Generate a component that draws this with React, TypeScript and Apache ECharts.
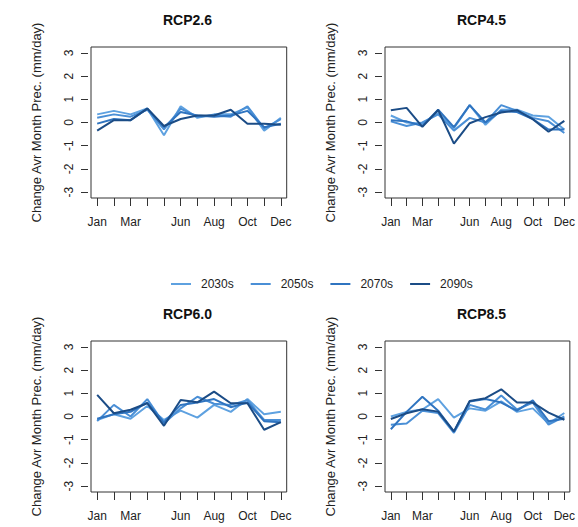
import React, { useEffect, useRef } from 'react';
import * as echarts from 'echarts';

const MONTHS = ['Jan', 'Feb', 'Mar', 'Apr', 'May', 'Jun', 'Jul', 'Aug', 'Sep', 'Oct', 'Nov', 'Dec'];
const LABELED_MONTHS = ['Jan', 'Mar', 'Jun', 'Aug', 'Oct', 'Dec'];
const Y_TICKS = [-3, -2, -1, 0, 1, 2, 3];
const PERIODS = ['2030s', '2050s', '2070s', '2090s'];
const PERIOD_COLORS = ['#5ea1e0', '#4a8fd6', '#2f74c0', '#1b4c86'];
const SCENARIOS = ['RCP2.6', 'RCP4.5', 'RCP6.0', 'RCP8.5'];
const Y_NAME = 'Change Avr Month Prec. (mm/day)';

const rcp26_2030s = [0.35, 0.5, 0.35, 0.6, -0.55, 0.7, 0.2, 0.35, 0.35, 0.65, -0.35, 0.2];
const rcp26_2050s = [0.2, 0.35, 0.25, 0.55, -0.3, 0.6, 0.25, 0.3, 0.25, 0.7, -0.25, 0.15];
const rcp26_2070s = [-0.05, 0.15, 0.1, 0.6, -0.2, 0.45, 0.3, 0.25, 0.3, 0.5, -0.2, -0.05];
const rcp26_2090s = [-0.35, 0.1, 0.1, 0.6, -0.15, 0.15, 0.3, 0.3, 0.55, -0.05, -0.05, -0.1];

const rcp45_2030s = [0.3, 0.0, -0.05, 0.4, -0.25, 0.75, -0.1, 0.55, 0.55, 0.3, 0.25, -0.3];
const rcp45_2050s = [0.05, -0.15, 0.0, 0.35, -0.35, 0.2, 0.0, 0.75, 0.5, 0.2, 0.05, -0.45];
const rcp45_2070s = [0.1, 0.05, -0.15, 0.55, -0.2, 0.75, 0.0, 0.5, 0.45, 0.15, -0.3, -0.3];
const rcp45_2090s = [0.53, 0.63, -0.19, 0.54, -0.91, -0.03, 0.23, 0.43, 0.53, 0.14, -0.4, 0.07];

const rcp60_2030s = [-0.15, 0.1, -0.1, 0.45, -0.15, 0.25, -0.05, 0.5, 0.2, 0.75, 0.1, 0.2];
const rcp60_2050s = [-0.2, 0.5, 0.0, 0.75, -0.3, 0.35, 0.85, 0.55, 0.5, 0.7, -0.15, -0.15];
const rcp60_2070s = [-0.1, 0.1, 0.2, 0.6, -0.25, 0.5, 0.6, 0.75, 0.4, 0.6, -0.2, -0.25];
const rcp60_2090s = [0.93, 0.14, 0.29, 0.57, -0.4, 0.71, 0.61, 1.07, 0.57, 0.57, -0.57, -0.24];

const rcp85_2030s = [0.0, 0.2, 0.3, 0.75, -0.05, 0.35, 0.25, 0.65, 0.2, 0.35, -0.3, 0.15];
const rcp85_2050s = [-0.35, -0.3, 0.25, 0.15, -0.7, 0.5, 0.3, 0.9, 0.3, 0.6, -0.35, 0.0];
const rcp85_2070s = [-0.55, 0.2, 0.85, 0.25, -0.65, 0.65, 0.75, 0.6, 0.25, 0.7, -0.2, -0.1];
const rcp85_2090s = [-0.11, 0.14, 0.31, 0.21, -0.64, 0.67, 0.79, 1.17, 0.6, 0.6, 0.17, -0.14];

const SCENARIO_DATA = [
  [rcp26_2030s, rcp26_2050s, rcp26_2070s, rcp26_2090s],
  [rcp45_2030s, rcp45_2050s, rcp45_2070s, rcp45_2090s],
  [rcp60_2030s, rcp60_2050s, rcp60_2070s, rcp60_2090s],
  [rcp85_2030s, rcp85_2050s, rcp85_2070s, rcp85_2090s],
];

const FONT = "'Liberation Sans', Arial, sans-serif";
const TEXT_COLOR = '#222';

export default function App() {
  const ref = useRef<HTMLDivElement>(null);

  useEffect(() => {
    if (!ref.current) return;
    const chart = echarts.init(ref.current, undefined, { renderer: 'svg' });

    const panelLeft = [91, 385, 91, 385];
    const panelTop = [47, 47, 341, 341];
    const panelW = 195.7;
    const panelH = 151;

    const monthIdx = MONTHS.map((_, i) => i + 1);
    const labeledIdx = LABELED_MONTHS.map((m) => MONTHS.indexOf(m) + 1);

    const grids: any[] = [];
    const xAxes: any[] = [];
    const yAxes: any[] = [];
    const titles: any[] = [];
    const series: any[] = [];

    SCENARIOS.forEach((sc, p) => {
      grids.push({
        left: panelLeft[p],
        top: panelTop[p],
        width: panelW,
        height: panelH,
        show: true,
        borderColor: '#333',
        borderWidth: 1,
        backgroundColor: 'transparent',
        containLabel: false,
      });
      xAxes.push({
        type: 'value',
        gridIndex: p,
        position: 'bottom',
        min: 0.63,
        max: 12.35,
        axisLine: { show: false, onZero: false },
        splitLine: { show: false },
        axisTick: {
          show: true,
          length: 8,
          customValues: monthIdx,
          lineStyle: { color: '#333', width: 1 },
        },
        axisLabel: {
          show: true,
          customValues: labeledIdx,
          formatter: (v: number) => MONTHS[Math.round(v) - 1] ?? '',
          fontFamily: FONT,
          fontSize: 12,
          color: TEXT_COLOR,
          margin: 18,
        },
      });
      yAxes.push({
        type: 'value',
        gridIndex: p,
        min: -3.25,
        max: 3.25,
        offset: 3,
        axisLine: { show: false, onZero: false },
        splitLine: { show: false },
        axisTick: {
          show: true,
          length: 7,
          customValues: Y_TICKS,
          lineStyle: { color: '#333', width: 1 },
        },
        axisLabel: {
          show: true,
          customValues: Y_TICKS,
          rotate: 90,
          fontFamily: FONT,
          fontSize: 12,
          color: TEXT_COLOR,
          margin: 13,
        },
        name: Y_NAME,
        nameLocation: 'middle',
        nameRotate: 90,
        nameGap: 45,
        nameTextStyle: { fontFamily: FONT, fontSize: 13, color: TEXT_COLOR },
      });
      titles.push({
        text: sc,
        left: panelLeft[p] + 96.5,
        top: panelTop[p] - 27,
        padding: 0,
        textAlign: 'center',
        textVerticalAlign: 'middle',
        textStyle: { fontFamily: FONT, fontSize: 14, fontWeight: 'bold', color: '#111' },
      });
      PERIODS.forEach((per, k) => {
        series.push({
          type: 'line',
          name: per,
          xAxisIndex: p,
          yAxisIndex: p,
          data: SCENARIO_DATA[p][k].map((v, i) => [monthIdx[i], v]),
          showSymbol: false,
          symbol: 'none',
          lineStyle: { color: PERIOD_COLORS[k], width: 2 },
          itemStyle: { color: PERIOD_COLORS[k] },
          clip: false,
        });
      });
    });

    chart.setOption({
      animation: false,
      backgroundColor: '#fff',
      title: titles,
      legend: {
        data: PERIODS,
        left: 171,
        top: 278,
        padding: 0,
        icon: 'rect',
        itemWidth: 20,
        itemHeight: 2,
        itemGap: 17,
        textStyle: { fontFamily: FONT, fontSize: 12, color: TEXT_COLOR, padding: [0, 0, 0, 5] },
      },
      grid: grids,
      xAxis: xAxes,
      yAxis: yAxes,
      series,
    });

    return () => chart.dispose();
  }, []);

  return (
    <div
      ref={ref}
      style={{ position: 'absolute', left: 0, top: 0, width: 578, height: 527, background: '#fff' }}
    />
  );
}
